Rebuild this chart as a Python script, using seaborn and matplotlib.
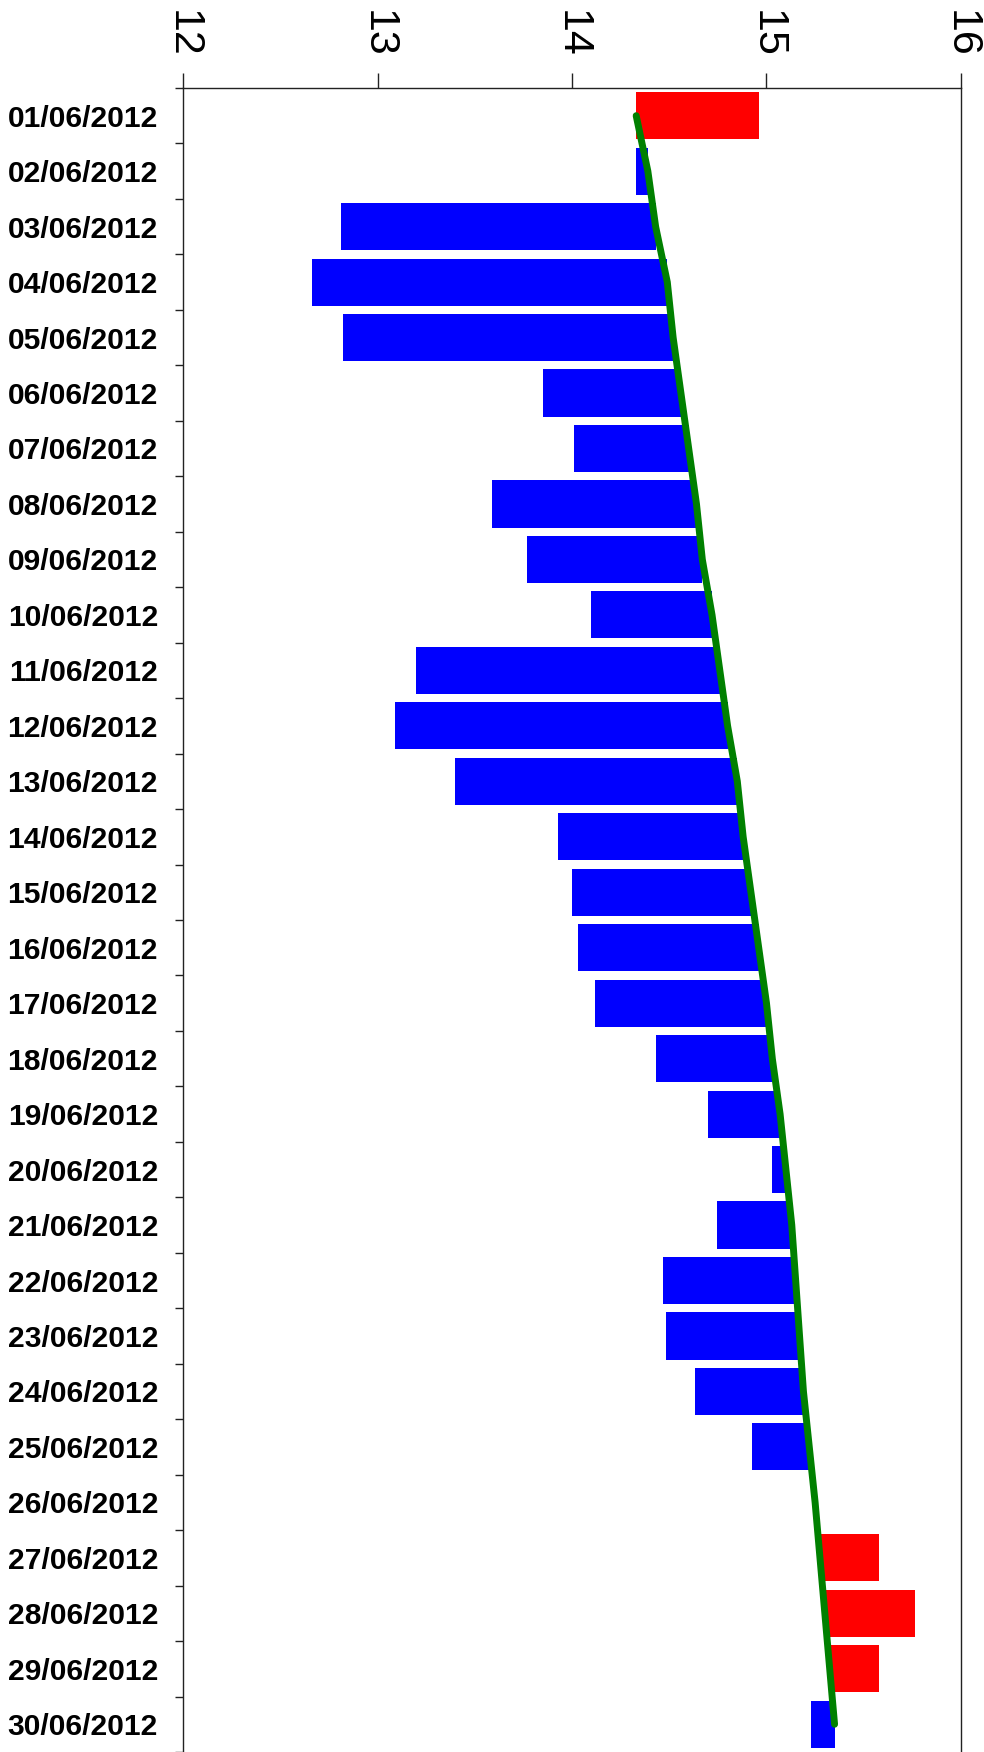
import numpy as np
import pandas as pd
import matplotlib.pyplot as plt
import seaborn as sns

sns.set_style("ticks")
plt.rcParams['font.family'] = ['Liberation Sans', 'DejaVu Sans']
plt.rcParams['text.color'] = 'black'
plt.rcParams['xtick.color'] = 'black'
plt.rcParams['ytick.color'] = 'black'

# Data (June 2012)
dates = ["%02d/06/2012" % d for d in range(1, 31)]
values = [14.96, 14.33, 12.81, 12.665, 12.82, 13.85, 14.01, 13.59, 13.77, 14.10,
          13.20, 13.09, 13.40, 13.93, 14.00, 14.03, 14.12, 14.43, 14.70, 15.03,
          14.745, 14.47, 14.485, 14.63, 14.925, np.nan, 15.58, 15.765, 15.58, 15.23]
trend = [14.33, 14.39, 14.43, 14.49, 14.52, 14.56, 14.60, 14.64, 14.67, 14.72,
         14.76, 14.80, 14.85, 14.88, 14.92, 14.96, 15.00, 15.03, 15.07, 15.10,
         15.13, 15.15, 15.17, 15.19, 15.22, 15.25, 15.275, 15.30, 15.325, 15.35]
x_ticks = [12, 13, 14, 15, 16]

df = pd.DataFrame({"date": dates, "value": values, "trend": trend})
df["diff"] = df["value"] - df["trend"]
above = df[df["diff"] > 0]
below = df[df["diff"] < 0]

fig = plt.figure(figsize=(9.84, 17.52), dpi=100)
ax = fig.add_axes([0.186, 0.0, 0.7906, 0.9498])

# floating bars from the trend line to the value
sns.barplot(data=below, x="diff", y="date", order=dates, orient="y", color="#0000ff",
            saturation=1, width=0.85, errorbar=None, linewidth=0,
            left=below["trend"].to_numpy(), ax=ax)
sns.barplot(data=above, x="diff", y="date", order=dates, orient="y", color="#ff0000",
            saturation=1, width=0.85, errorbar=None, linewidth=0,
            left=above["trend"].to_numpy(), ax=ax)

# trend line
sns.lineplot(data=df, x="trend", y="date", orient="y", sort=False, estimator=None,
             color="green", linewidth=5, solid_capstyle="round", zorder=5, ax=ax)

ax.set_xlim(12, 16)
ax.set_ylim(29.5, -0.5)
ax.set_xlabel("")
ax.set_ylabel("")

# x axis on top, rotated labels
ax.set_xticks(x_ticks)
ax.set_xticklabels([str(t) for t in x_ticks])
ax.tick_params(axis="x", which="major", top=True, labeltop=True, bottom=False, labelbottom=False,
               length=10.5, width=1, direction="out", pad=11, labelsize=31, labelrotation=-90,
               color="#222222", labelcolor="black")

# y labels at row centres, ticks at row boundaries
ax.set_yticks(range(len(dates)))
ax.set_yticklabels(dates, fontweight="bold", fontsize=21.6, color="black")
ax.set_yticks(np.arange(-0.5, len(dates), 1), minor=True)
ax.tick_params(axis="y", which="major", left=True, length=0, pad=18)
ax.tick_params(axis="y", which="minor", left=True, length=6, width=1, direction="out",
               color="#222222")

for side in ["top", "left", "right"]:
    ax.spines[side].set_color("#222222")
    ax.spines[side].set_linewidth(1)
ax.spines["bottom"].set_visible(False)

plt.savefig("out.png", dpi=100)
